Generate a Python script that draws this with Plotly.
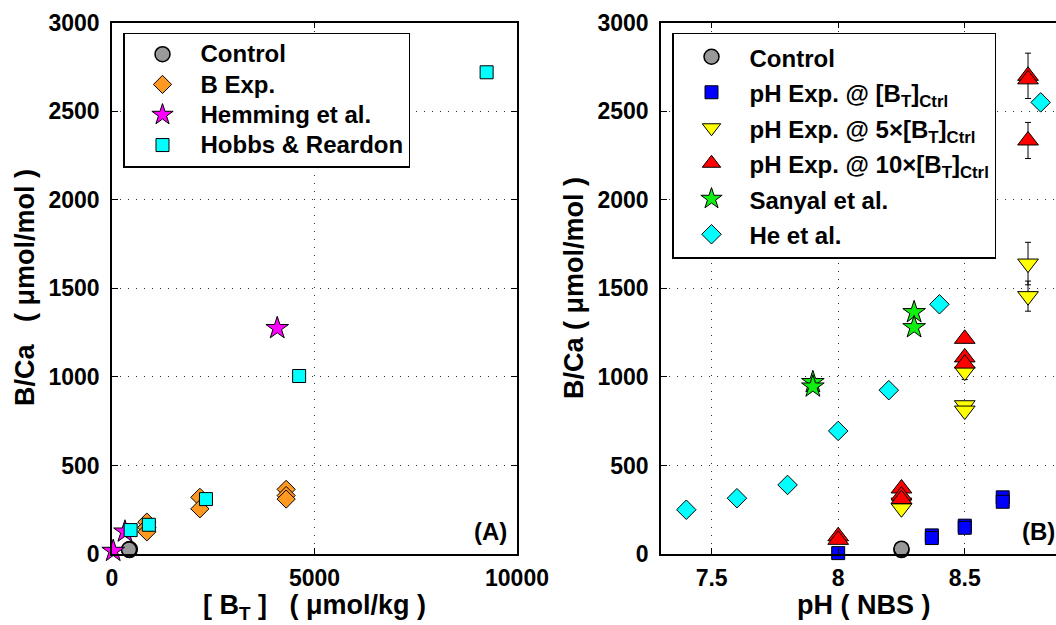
import plotly.graph_objects as go

# ---------------- Panel A data ----------------
ctrl_bt = [430, 440, 420]
ctrl_bca_a = [22, 28, 26]

bexp_bt = [860, 860, 860, 2170, 2170, 4300, 4300, 4300]
bexp_bca = [180, 150, 125, 320, 255, 365, 330, 310]

hem_bt = [30, 320, 4080]
hem_bca = [17, 126, 1275]

hob_bt = [460, 910, 2320, 4620, 9250]
hob_bca = [135, 165, 310, 1005, 2720]

# ---------------- Panel B data ----------------
ctrl_ph = [8.25, 8.25]
ctrl_bca_b = [22, 30]

ph1_ph = [8.0, 8.37, 8.37, 8.5, 8.5, 8.65, 8.65]
ph1_bca = [5, 105, 90, 160, 148, 320, 295]

ph5_ph = [8.25, 8.25, 8.5, 8.5, 8.5, 8.75, 8.75]
ph5_bca = [290, 258, 840, 810, 1030, 1640, 1456]
ph5_err = [0, 0, 0, 0, 45, 120, 85]

ph10_ph = [8.0, 8.0, 8.25, 8.25, 8.25, 8.5, 8.5, 8.5, 8.75, 8.75, 8.75]
ph10_bca = [100, 80, 370, 330, 310, 1215, 1110, 1075, 2700, 2680, 2335]
ph10_err = [0, 0, 0, 0, 0, 0, 0, 0, 128, 0, 102]

san_ph = [7.9, 7.9, 8.3, 8.3]
san_bca = [970, 945, 1365, 1280]

he_ph = [7.4, 7.6, 7.8, 8.0, 8.2, 8.4, 8.8]
he_bca = [250, 315, 390, 695, 925, 1410, 2550]

xticks_a = [0, 5000, 10000]
xticklabels_a = ["0", "5000", "10000"]
xticks_b = [7.5, 8, 8.5]
xticklabels_b = ["7.5", "8", "8.5"]
yticks = [0, 500, 1000, 1500, 2000, 2500, 3000]

FONT = "Liberation Sans, Arial, sans-serif"
W, H = 1056, 625

fig = go.Figure()


def lab(s):
    return f'<span style="font-size:24px">{s}</span>'


def add(x, y, name, symbol, color, size, xa, ya, legend, err=None, lw=1):
    kw = {}
    if err is not None:
        kw["error_y"] = dict(type="data", array=err, visible=True,
                             color="black", thickness=1, width=3)
    fig.add_trace(go.Scatter(
        x=x, y=y, mode="markers", name=lab(name), xaxis=xa, yaxis=ya,
        legend=legend, cliponaxis=False,
        marker=dict(symbol=symbol, color=color, size=size,
                    line=dict(color="black", width=lw)), **kw))


# Panel A
add(ctrl_bt, ctrl_bca_a, "Control", "circle", "#999999", 15, "x", "y", "legend", lw=1.5)
add(bexp_bt, bexp_bca, "B Exp.", "diamond", "#FF9922", 14, "x", "y", "legend")
add(hem_bt, hem_bca, "Hemming et al.", "star", "#FF00FF", 17, "x", "y", "legend")
add(hob_bt, hob_bca, "Hobbs &amp; Reardon", "square", "#00FFFF", 13, "x", "y", "legend")

# Panel B
add(ctrl_ph, ctrl_bca_b, "Control", "circle", "#999999", 15, "x2", "y2", "legend2", lw=1.5)
add(ph1_ph, ph1_bca, "pH Exp. @ [B<sub>T</sub>]<sub>Ctrl</sub>", "square", "#0000FF", 13,
    "x2", "y2", "legend2")
add(ph5_ph, ph5_bca, "pH Exp. @ 5×[B<sub>T</sub>]<sub>Ctrl</sub>", "triangle-down", "#FFFF00", 18,
    "x2", "y2", "legend2", err=ph5_err)
add(ph10_ph, ph10_bca, "pH Exp. @ 10×[B<sub>T</sub>]<sub>Ctrl</sub>", "triangle-up", "#FF0000", 18,
    "x2", "y2", "legend2", err=ph10_err)
add(san_ph, san_bca, "Sanyal et al.", "star", "#11EE11", 17, "x2", "y2", "legend2")
add(he_ph, he_bca, "He et al.", "diamond", "#00FFFF", 15, "x2", "y2", "legend2")

tickfont = dict(family=FONT, size=23, color="black", weight="bold")
common = dict(showline=True, linecolor="black", linewidth=1.5, ticks="inside",
              ticklen=6, tickwidth=1, tickcolor="black", tickfont=tickfont,
              zeroline=False, showgrid=True, gridcolor="#333333", gridwidth=1,
              griddash="1px,7px")

x0a, x1a = 112 / W, 517 / W
x0b = 661 / W
ytop, ybot = 1 - 22.7 / H, 1 - 554 / H

legend_common = dict(xanchor="left", yanchor="top", bgcolor="white",
                     bordercolor="black", borderwidth=1.5, itemwidth=66,
                     tracegroupgap=0)

fig.update_layout(
    width=W, height=H, margin=dict(l=0, r=0, t=0, b=0, autoexpand=False),
    paper_bgcolor="white", plot_bgcolor="white",
    xaxis=dict(domain=[x0a, x1a], range=[0, 10000], tickvals=xticks_a,
               ticktext=xticklabels_a, mirror="ticks", anchor="y",
               ticklabelstandoff=3, **common),
    yaxis=dict(domain=[ybot, ytop], range=[0, 3000], tickvals=yticks,
               mirror="ticks", anchor="x", ticklabelstandoff=6, **common),
    xaxis2=dict(domain=[x0b, 1.0], range=[7.3, 8.8605], tickvals=xticks_b,
                ticktext=xticklabels_b, mirror="ticks", anchor="y2",
                ticklabelstandoff=3, **common),
    yaxis2=dict(domain=[ybot, ytop], range=[0, 3000], tickvals=yticks,
                mirror=False, anchor="x2", ticklabelstandoff=6, **common),
    legend=dict(x=123 / W, y=1 - 32.5 / H,
                font=dict(family=FONT, size=21, color="black", weight="bold"),
                **legend_common),
    legend2=dict(x=672 / W, y=1 - 32.5 / H,
                 font=dict(family=FONT, size=25, color="black", weight="bold"),
                 **legend_common),
    showlegend=True,
)

tfont = dict(family=FONT, size=27, color="black", weight="bold")
nb = "\u00a0"
anns = [
    dict(text=f"B/Ca{nb*3}( μmol/mol )", x=25 / W, y=1 - 288 / H, textangle=-90,
         xanchor="center", yanchor="middle", font=tfont),
    dict(text="B/Ca ( μmol/mol )", x=574 / W, y=1 - 288 / H, textangle=-90,
         xanchor="center", yanchor="middle", font=tfont),
    dict(text=f"[ B<sub>T</sub> ]{nb*3}( μmol/kg )", x=314.5 / W, y=1 - 625 / H,
         xanchor="center", yanchor="bottom", font=tfont, borderpad=0),
    dict(text="pH ( NBS )", x=863.5 / W, y=1 - 622 / H,
         xanchor="center", yanchor="bottom", font=tfont),
    dict(text="(A)", x=509 / W, y=1 - 531 / H, xanchor="right", yanchor="middle",
         font=dict(family=FONT, size=24, color="black", weight="bold")),
    dict(text="(B)", x=1020 / W, y=1 - 531 / H, xanchor="left", yanchor="middle",
         font=dict(family=FONT, size=24, color="black", weight="bold")),
]
for a in anns:
    a.update(xref="paper", yref="paper", showarrow=False)
fig.update_layout(annotations=anns)

fig.write_html("out.html")
